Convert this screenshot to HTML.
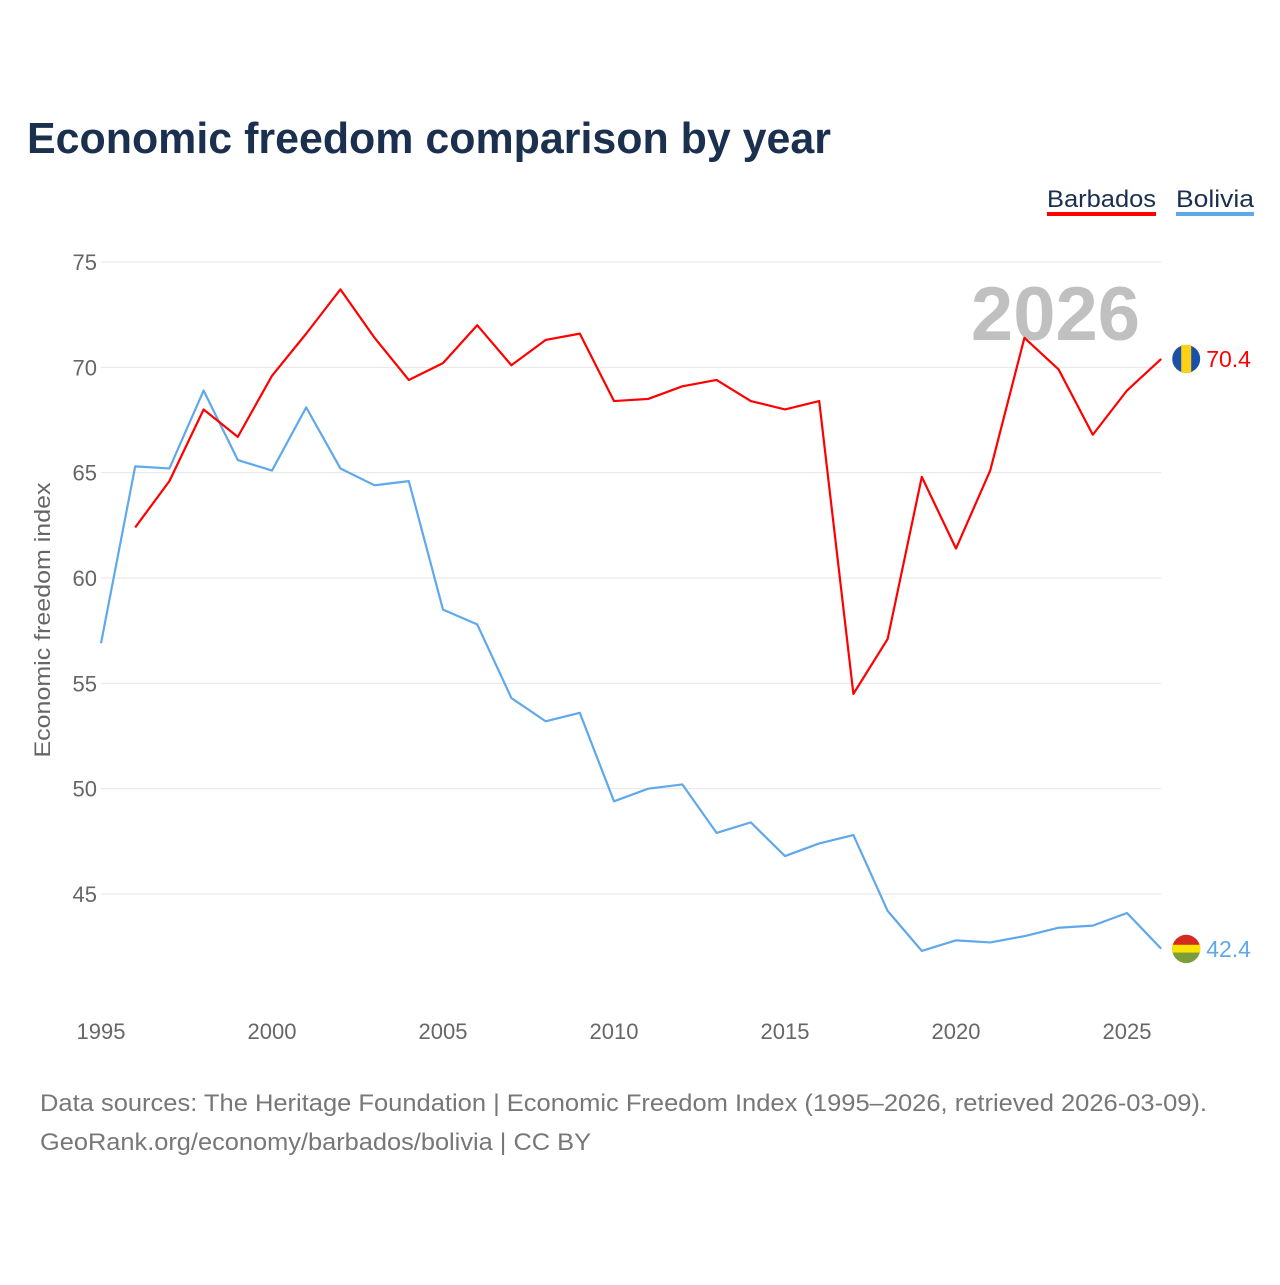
<!DOCTYPE html>
<html><head><meta charset="utf-8">
<style>
body{margin:0;background:#fff;font-family:"Liberation Sans",sans-serif;}
svg text{font-family:"Liberation Sans",sans-serif;}
</style></head>
<body>
<svg width="1280" height="1280" xmlns="http://www.w3.org/2000/svg" id="chart">
<text x="27" y="153" font-size="44" font-weight="bold" fill="#1b2f4e" textLength="804" lengthAdjust="spacingAndGlyphs">Economic freedom comparison by year</text>
<g>
<text x="1047" y="207" font-size="24" fill="#1b2f4e" textLength="109" lengthAdjust="spacingAndGlyphs">Barbados</text>
<rect x="1047" y="212" width="109" height="4" fill="#ff0000"/>
<text x="1176" y="207" font-size="24" fill="#1b2f4e" textLength="78" lengthAdjust="spacingAndGlyphs">Bolivia</text>
<rect x="1176" y="212" width="78" height="4" fill="#5fa8ec"/>
</g>
<g id="grid"></g>
<g id="yticks"></g>
<g id="xticks"></g>
<text transform="translate(50,620) rotate(-90)" text-anchor="middle" font-size="22" fill="#666" textLength="275" lengthAdjust="spacingAndGlyphs">Economic freedom index</text>
<text x="1140" y="340" text-anchor="end" font-size="76" font-weight="bold" fill="#c0c0c0">2026</text>
<g id="series"></g>
<text x="40" y="1111" font-size="24" fill="#777" textLength="1167" lengthAdjust="spacingAndGlyphs">Data sources: The Heritage Foundation | Economic Freedom Index (1995–2026, retrieved 2026-03-09).</text>
<text x="40" y="1150" font-size="24" fill="#777" textLength="551" lengthAdjust="spacingAndGlyphs">GeoRank.org/economy/barbados/bolivia | CC BY</text>
</svg>
<script>
const yTicks=[45,50,55,60,65,70,75];
const xTicks=[1995,2000,2005,2010,2015,2020,2025];
const barbadosYears=[1996,1997,1998,1999,2000,2001,2002,2003,2004,2005,2006,2007,2008,2009,2010,2011,2012,2013,2014,2015,2016,2017,2018,2019,2020,2021,2022,2023,2024,2025,2026];
const barbados=[62.4,64.6,68.0,66.7,69.6,71.6,73.7,71.4,69.4,70.2,72.0,70.1,71.3,71.6,68.4,68.5,69.1,69.4,68.4,68.0,68.4,54.5,57.1,64.8,61.4,65.1,71.4,69.9,66.8,68.9,70.4];
const boliviaYears=[1995,1996,1997,1998,1999,2000,2001,2002,2003,2004,2005,2006,2007,2008,2009,2010,2011,2012,2013,2014,2015,2016,2017,2018,2019,2020,2021,2022,2023,2024,2025,2026];
const bolivia=[56.9,65.3,65.2,68.9,65.6,65.1,68.1,65.2,64.4,64.6,58.5,57.8,54.3,53.2,53.6,49.4,50.0,50.2,47.9,48.4,46.8,47.4,47.8,44.2,42.3,42.8,42.7,43.0,43.4,43.5,44.1,42.4];
const NS="http://www.w3.org/2000/svg";
const xs=y=>101+(y-1995)*34.2;
const ys=v=>262+(75-v)*21.067;
function mk(t,a,p){const e=document.createElementNS(NS,t);for(const k in a)e.setAttribute(k,a[k]);p.appendChild(e);return e;}
const grid=document.getElementById('grid'),yt=document.getElementById('yticks'),xt=document.getElementById('xticks'),ser=document.getElementById('series');
yTicks.forEach(v=>{
 const l=mk('line',{x1:101,x2:1161,y1:ys(v),y2:ys(v),stroke:'#e6e6e6','stroke-width':1},grid);
 
 
 const t=mk('text',{x:97,y:ys(v)+8,'text-anchor':'end','font-size':22,fill:'#666'},yt);
 t.textContent=v;
 
 
});
xTicks.forEach(v=>{
 const t=mk('text',{x:xs(v),y:1039,'text-anchor':'middle','font-size':22,fill:'#666'},xt);
 t.textContent=v;
 
 
});
function line(yrs,vals,col,name){
 const p=mk('polyline',{points:yrs.map((y,i)=>xs(y)+','+ys(vals[i])).join(' '),fill:'none',stroke:col,'stroke-width':2.2,'stroke-linejoin':'round'},ser);
 
 
 const last=vals[vals.length-1],lx=xs(yrs[yrs.length-1]),ly=ys(last);
 const c=mk('circle',{cx:lx+25,cy:ly,r:14,fill:name==='barbados'?'#1b4fa8':'#d52b1e'},ser);
 
 
 if(name==='barbados'){mk('rect',{x:lx+20,y:ly-14,width:10,height:28,fill:'#fcd116'},ser);}
 else{mk('rect',{x:lx+11,y:ly-4,width:28,height:8,fill:'#f9e300'},ser);mk('path',{d:`M${lx+11.5} ${ly+4} A14 14 0 0 0 ${lx+38.5} ${ly+4} Z`,fill:'#7a9e3b'},ser);}
 const t=mk('text',{x:lx+45,y:ly+8,'font-size':23,fill:col},ser);
 t.textContent=last.toFixed(1);
 
 
}
line(boliviaYears,bolivia,'#5fa8ec','bolivia');
line(barbadosYears,barbados,'#ff0000','barbados');
</script>
</body></html>
